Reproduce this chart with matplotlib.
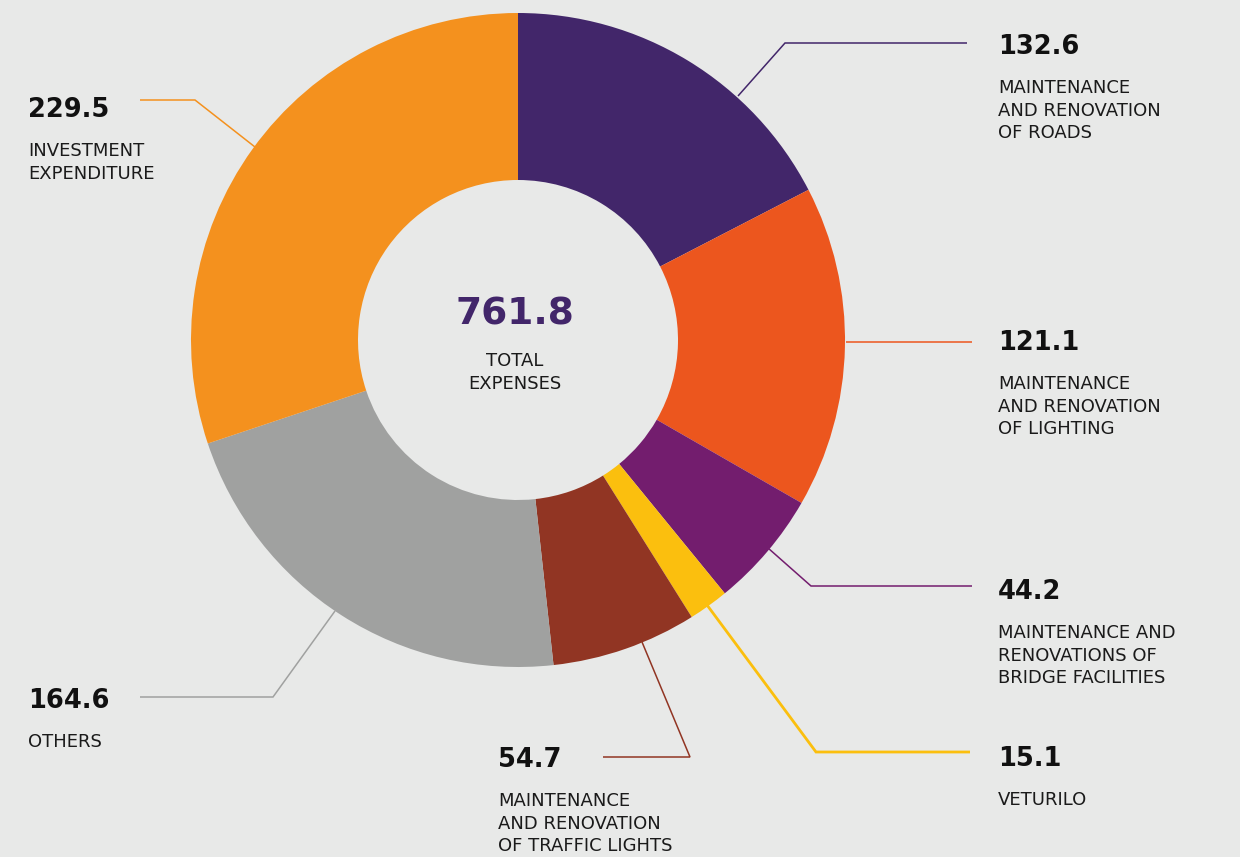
import numpy as np
import matplotlib
matplotlib.use("Agg")
import matplotlib.pyplot as plt

# budget split, clockwise from 12 o'clock
categories = [
    "MAINTENANCE\nAND RENOVATION\nOF ROADS",
    "MAINTENANCE\nAND RENOVATION\nOF LIGHTING",
    "MAINTENANCE AND\nRENOVATIONS OF\nBRIDGE FACILITIES",
    "VETURILO",
    "MAINTENANCE\nAND RENOVATION\nOF TRAFFIC LIGHTS",
    "OTHERS",
    "INVESTMENT\nEXPENDITURE",
]
values = [132.6, 121.1, 44.2, 15.1, 54.7, 164.6, 229.5]
colors = ["#42266a", "#ec561e", "#731d6e", "#fbbf0e", "#913523", "#a0a1a0", "#f4911e"]
total = 761.8
total_label = "TOTAL\nEXPENSES"

# layout (pixel coordinates, y measured from the top of the picture)
W, H = 1240, 857
cx, cy, r_out, r_in = 518, 340, 327, 160
# leader line paths and text anchors per slice
leaders = [
    [(738, 96), (785, 43), (967, 43)],
    [(846, 342), (972, 342)],
    [(768, 548), (811, 586), (972, 586)],
    [(707, 605), (816, 752), (970, 752)],
    [(642, 642), (690, 757), (603, 757)],
    [(335, 611), (273, 697), (140, 697)],
    [(255, 147), (195, 100), (140, 100)],
]
text_pos = [(998, 54), (998, 350), (998, 599), (998, 766), (498, 767), (28, 708), (28, 117)]
leader_w = [1.1, 1.1, 1.1, 2.0, 1.1, 1.1, 1.1]

bg = "#e8e9e8"
fig = plt.figure(figsize=(W / 100, H / 100), dpi=100, facecolor=bg)
ax = fig.add_axes([0, 0, 1, 1])

def fy(y):
    return H - y

ax.pie(values, colors=colors, startangle=90, counterclock=False,
       center=(cx, fy(cy)), radius=r_out, frame=True,
       wedgeprops=dict(width=r_out - r_in, linewidth=0))
ax.set_xlim(0, W)
ax.set_ylim(0, H)
ax.axis("off")

num_font = dict(family="DejaVu Sans", fontweight="bold", fontsize=18.5, color="#111111")
lab_font = dict(family="DejaVu Sans", fontsize=13, color="#1a1a1a", linespacing=1.33)

for val, lab, col, path, (tx, ty), lw in zip(values, categories, colors, leaders, text_pos, leader_w):
    xs = [p[0] for p in path]
    ys = [fy(p[1]) for p in path]
    ax.plot(xs, ys, color=col, lw=lw, solid_capstyle="butt", solid_joinstyle="miter")
    ax.text(tx, fy(ty), f"{val:.1f}", ha="left", va="baseline", **num_font)
    ax.text(tx, fy(ty + 39 - 14), lab, ha="left", va="top", **lab_font)

ax.text(cx - 3, fy(324), f"{total:.1f}", ha="center", va="baseline",
        family="DejaVu Sans", fontweight="bold", fontsize=27, color="#42266a")
ax.text(cx - 3, fy(352), total_label, ha="center", va="top", multialignment="center",
        **lab_font)

fig.savefig("out.png", dpi=100, facecolor=bg)
